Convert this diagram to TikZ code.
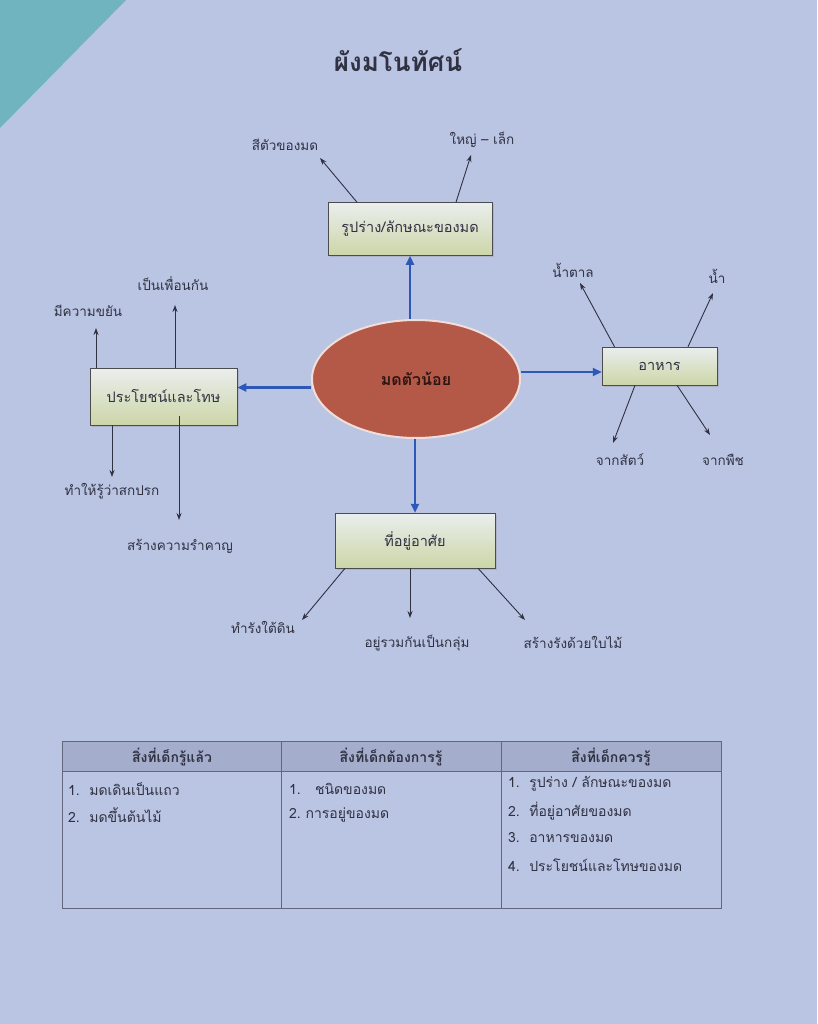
\documentclass[tikz,border=0pt]{standalone}
\usepackage{fontspec}
\setmainfont[Script=Thai]{Loma}
\usetikzlibrary{arrows.meta,calc,shadows,shapes.geometric}
\definecolor{paper}{RGB}{186,196,227}
\definecolor{tealc}{RGB}{112,180,192}
\definecolor{ink}{RGB}{48,50,66}
\definecolor{bluear}{RGB}{46,88,184}
\definecolor{antred}{RGB}{180,88,72}
\definecolor{boxtop}{RGB}{234,238,238}
\definecolor{boxbot}{RGB}{204,214,168}
\definecolor{hdr}{RGB}{164,173,204}
\definecolor{tline}{RGB}{98,104,124}
\tikzset{
  lbl/.style={font=\fontsize{13.5}{15}\selectfont, text=ink, inner sep=1pt},
  topic/.style={draw=gray!60!black, line width=0.5pt, top color=boxtop, bottom color=boxbot,
    font=\fontsize{14.5}{16}\selectfont, text=ink, inner sep=0pt,
    drop shadow={opacity=0.25, shadow xshift=1.5pt, shadow yshift=-1.5pt}},
  thinarr/.style={-{Stealth[length=7pt,width=5pt]}, draw=ink, line width=0.9pt},
  bluearr/.style={-{Triangle[length=9pt,width=8pt]}, draw=bluear, line width=2.2pt},
  cell/.style={font=\fontsize{14}{15}\selectfont, text=ink, anchor=west, inner sep=0pt},
  head/.style={font=\bfseries\fontsize{14}{15}\selectfont, text=ink, inner sep=0pt},
}
\begin{document}
\begin{tikzpicture}[x=1pt,y=-1pt]
\useasboundingbox (0,0) rectangle (817,1024);
\fill[paper] (0,0) rectangle (817,1024);
\fill[tealc] (0,0) -- (126,0) -- (0,128) -- cycle;

% title
\node[font=\bfseries\fontsize{26}{28}\selectfont, text=ink] (title) at (398,60) {ผังมโนทัศน์};

% center
\node[ellipse, fill=antred, draw=white!80!antred, line width=2pt, minimum width=208pt, minimum height=118pt,
  font=\bfseries\fontsize{16}{18}\selectfont, text=black!75!antred] (ant) at (416,379) {มดตัวน้อย};

% topic boxes
\node[topic, minimum width=164pt, minimum height=53pt] (shape) at (410,229) {รูปร่าง/ลักษณะของมด};
\node[topic, minimum width=115pt, minimum height=38pt] (food) at (659.5,366) {อาหาร};
\node[topic, minimum width=147pt, minimum height=57pt] (left) at (163.5,396.5) {ประโยชน์และโทษ};
\node[topic, minimum width=160pt, minimum height=55pt] (home) at (415,540.5) {ที่อยู่อาศัย};

% blue arrows
\draw[bluearr] (ant.north -| shape.south) -- (shape.south);
\draw[bluearr] (ant.south -| home.north) -- (home.north);
\coordinate (lw) at ([yshift=9pt]left.east);
\draw[bluearr] (ant.west |- lw) -- (lw);
\coordinate (fw) at ([yshift=-6pt]food.west);
\draw[bluearr] (ant.east |- fw) -- (fw);

% labels
\node[lbl] (lcolor) at (285,145) {สีตัวของมด};
\node[lbl] (lsize) at (482,140) {ใหญ่ – เล็ก};
\node[lbl] (lsugar) at (573,270) {น้ำตาล};
\node[lbl] (lwater) at (717,276) {น้ำ};
\node[lbl] (lanimal) at (620,460) {จากสัตว์};
\node[lbl] (lplant) at (723,460) {จากพืช};
\node[lbl] (ldilig) at (88,311) {มีความขยัน};
\node[lbl] (lfriend) at (173,284) {เป็นเพื่อนกัน};
\node[lbl] (ldirty) at (112,491) {ทำให้รู้ว่าสกปรก};
\node[lbl] (lannoy) at (180,546) {สร้างความรำคาญ};
\node[lbl] (lunder) at (263,627) {ทำรังใต้ดิน};
\node[lbl] (lgroup) at (417,643) {อยู่รวมกันเป็นกลุ่ม};
\node[lbl] (lleaf) at (573,642) {สร้างรังด้วยใบไม้};

% thin arrows
\draw[thinarr] ([xshift=-53pt]shape.north) -- ([xshift=35pt,yshift=-13pt]lcolor.center);
\draw[thinarr] ([xshift=46pt]shape.north) -- ([xshift=-11pt,yshift=-15pt]lsize.center);
\draw[thinarr] ([xshift=-45pt]food.north) -- ([xshift=7pt,yshift=-13pt]lsugar.center);
\draw[thinarr] ([xshift=28.5pt]food.north) -- ([xshift=-4pt,yshift=-17pt]lwater.center);
\draw[thinarr] ([xshift=-24.5pt]food.south) -- ([xshift=-7pt,yshift=17pt]lanimal.center);
\draw[thinarr] ([xshift=17.5pt]food.south) -- ([xshift=-13pt,yshift=25pt]lplant.center);
\draw[thinarr] ([xshift=-67.5pt]left.north) -- ([xshift=8pt,yshift=-17pt]ldilig.center);
\draw[thinarr] ([xshift=11.5pt]left.north) -- ([xshift=2pt,yshift=-21pt]lfriend.center);
\draw[thinarr] ([xshift=-51.5pt]left.south) -- ([yshift=14pt]ldirty.center);
\draw[thinarr] ([xshift=15.5pt,yshift=9pt]left.south) -- ([xshift=-1pt,yshift=26pt]lannoy.center);
\draw[thinarr] ([xshift=-70pt]home.south) -- ([xshift=39pt,yshift=7pt]lunder.center);
\draw[thinarr] ([xshift=-5pt]home.south) -- ([xshift=-7pt,yshift=25pt]lgroup.center);
\draw[thinarr] ([xshift=63pt]home.south) -- ([xshift=-48pt,yshift=22pt]lleaf.center);

% table
\fill[hdr] (62,741) rectangle (721,771);
\draw[tline, line width=0.8pt] (62,741) rectangle (721,908);
\draw[tline, line width=0.8pt] (62,771) -- (721,771);
\draw[tline, line width=0.8pt] (281,741) -- (281,908);
\draw[tline, line width=0.8pt] (501,741) -- (501,908);
\node[head] (h1) at (172,757) {สิ่งที่เด็กรู้แล้ว};
\node[head] (h2) at (391,757) {สิ่งที่เด็กต้องการรู้};
\node[head] (h3) at (611,757) {สิ่งที่เด็กควรรู้};
\node[cell] (c11) at (68,789) {1.\ \ มดเดินเป็นแถว};
\node[cell] (c12) at (68,815) {2.\ \ มดขึ้นต้นไม้};
\node[cell] (c21) at (289,789) {1.\ \ \ ชนิดของมด};
\node[cell] (c22) at (289,815) {2.\ การอยู่ของมด};
\node[cell] (c31) at (508,784) {1.\ \ รูปร่าง / ลักษณะของมด};
\node[cell] (c32) at (508,811) {2.\ \ ที่อยู่อาศัยของมด};
\node[cell] (c33) at (508,838) {3.\ \ อาหารของมด};
\node[cell] (c34) at (508,865) {4.\ \ ประโยชน์และโทษของมด};
\end{tikzpicture}
\end{document}
